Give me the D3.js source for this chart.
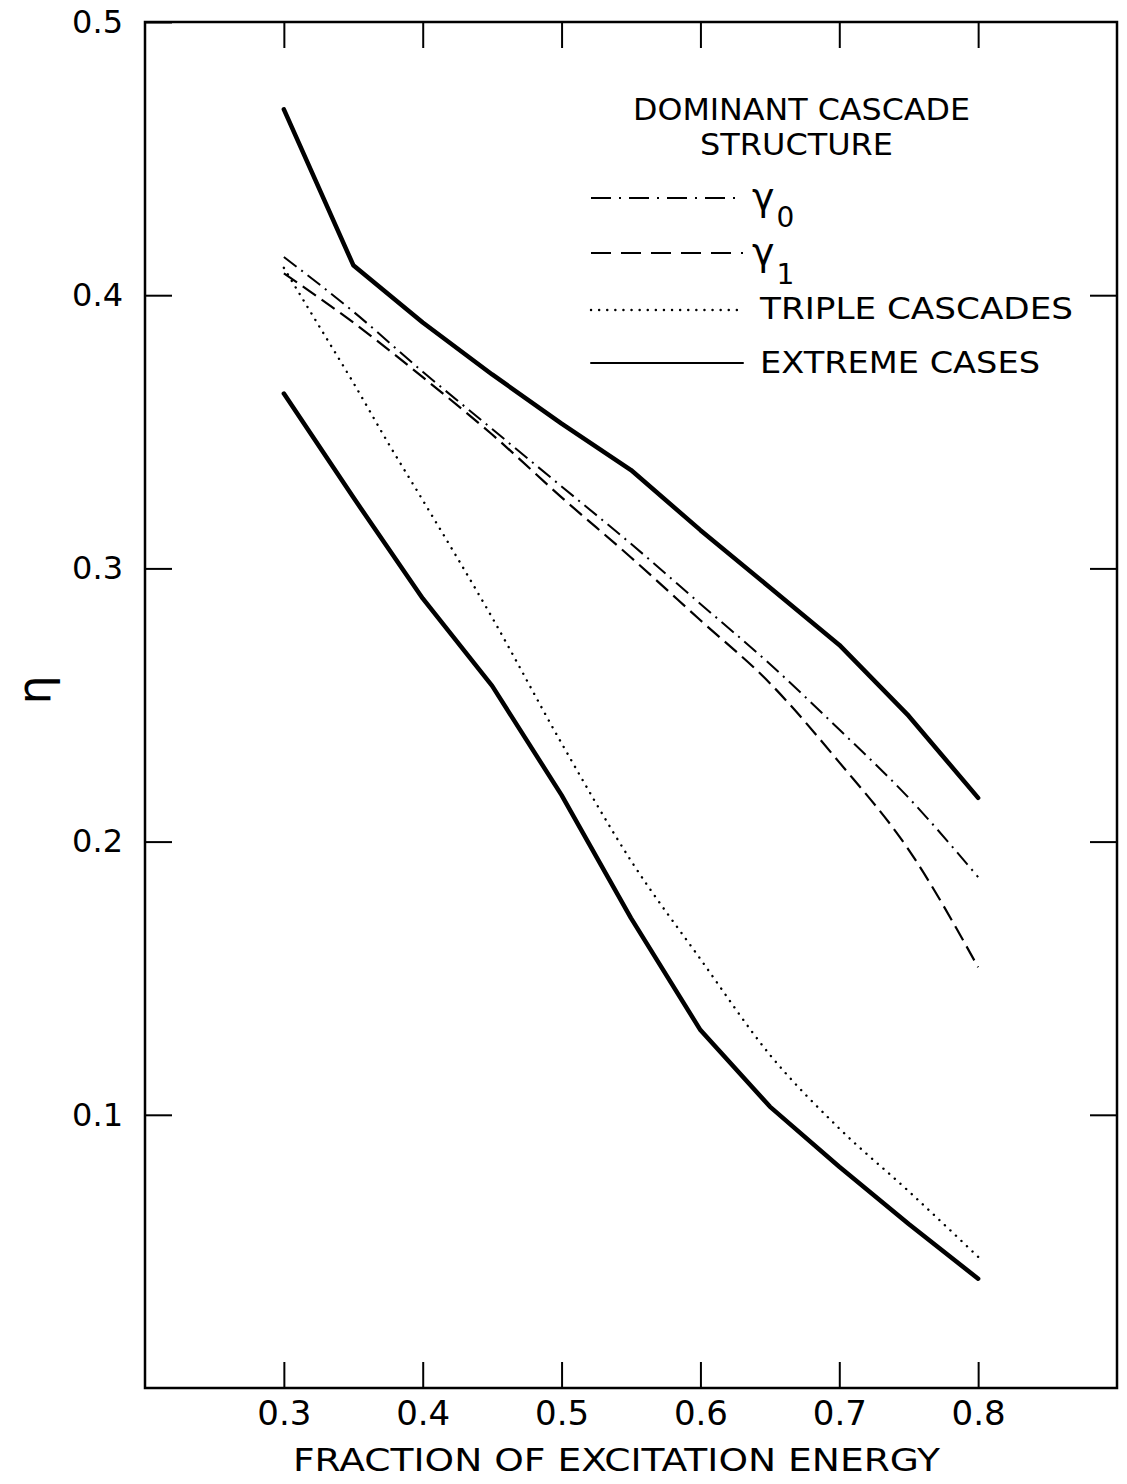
<!DOCTYPE html>
<html>
<head>
<meta charset="utf-8">
<script src="https://cdn.jsdelivr.net/npm/d3@7"></script>
<style>
  body { margin: 0; background: #fff; }
  svg { display: block; }
  text { font-family: "DejaVu Sans", sans-serif; fill: #000; }
</style>
</head>
<body>
<svg id="chart" width="1127" height="1484"></svg>
<script>
'use strict';

// Values.
const xTicks = [0.3, 0.4, 0.5, 0.6, 0.7, 0.8];
const yTicks = [0.1, 0.2, 0.3, 0.4, 0.5];

const gridX = [0.3, 0.35, 0.4, 0.45, 0.5, 0.55, 0.6, 0.65, 0.7, 0.75, 0.8];
const extremeUpper = [0.468, 0.411, 0.390, 0.371, 0.353, 0.336, 0.314, 0.293, 0.272, 0.246, 0.216];
const extremeLower = [0.364, 0.326, 0.289, 0.257, 0.217, 0.172, 0.131, 0.103, 0.081, 0.060, 0.040];
const gamma0 = [0.414, 0.394, 0.372, 0.351, 0.330, 0.309, 0.287, 0.265, 0.241, 0.216, 0.187];
const gamma1 = [0.408, 0.390, 0.370, 0.349, 0.326, 0.304, 0.281, 0.258, 0.229, 0.197, 0.154];

const tripleX = [0.3, 0.325, 0.35, 0.375, 0.4, 0.45, 0.5, 0.55, 0.6, 0.65, 0.7, 0.75, 0.8];
const triple = [0.410, 0.389, 0.368, 0.346, 0.325, 0.282, 0.236, 0.193, 0.157, 0.122, 0.095, 0.072, 0.048];

const svg = d3.select('#chart');
const margin = { left: 145, top: 22, right: 10, bottom: 96 };
const width = 1127 - margin.left - margin.right;
const height = 1484 - margin.top - margin.bottom;

const x = d3.scaleLinear().domain([0.2, 0.9]).range([0, width]);
const y = d3.scaleLinear().domain([0, 0.5]).range([height, 0]);

const g = svg.append('g').attr('transform', `translate(${margin.left},${margin.top})`);

// Axes, ticks pointing inward on all four sides
const fmt = d3.format('.1f');
const styleAxis = sel => {
  sel.select('.domain').remove();
  sel.selectAll('line').attr('stroke', '#000').attr('stroke-width', 2);
};

g.append('g')
  .attr('transform', `translate(0,${height})`)
  .call(d3.axisBottom(x).tickValues(xTicks).tickSize(-26).tickPadding(37).tickFormat(fmt))
  .call(styleAxis)
  .selectAll('text').attr('font-size', 34).attr('dy', 0);

g.append('g')
  .call(d3.axisTop(x).tickValues(xTicks).tickSize(-26).tickFormat(''))
  .call(styleAxis);

g.append('g')
  .call(d3.axisLeft(y).tickValues(yTicks).tickSize(-27).tickPadding(22).tickFormat(fmt))
  .call(styleAxis)
  .selectAll('text').attr('font-size', 32);

g.append('g')
  .attr('transform', `translate(${width},0)`)
  .call(d3.axisRight(y).tickValues(yTicks.slice(0, 4)).tickSize(-27).tickFormat(''))
  .call(styleAxis);

// Frame
g.append('rect')
  .attr('width', width).attr('height', height)
  .attr('fill', 'none').attr('stroke', '#000').attr('stroke-width', 2.5);

// Axis titles
svg.append('text')
  .attr('x', 293).attr('y', 1471)
  .attr('font-size', 32)
  .attr('textLength', 647).attr('lengthAdjust', 'spacingAndGlyphs')
  .text('FRACTION OF EXCITATION ENERGY');

svg.append('text')
  .attr('transform', 'translate(50,690) rotate(-90)')
  .attr('text-anchor', 'middle')
  .attr('font-size', 46)
  .text('η');

// Curves
const styles = {
  solid: { width: 4.5, dash: null, cap: 'round' },
  dashdot: { width: 2, dash: '16 6 2 6', cap: 'butt' },
  dashed: { width: 2.2, dash: '16 7', cap: 'butt' },
  dotted: { width: 2.4, dash: '0.1 7.5', cap: 'round' }
};

const series = [
  { xs: gridX, ys: gamma0, style: 'dashdot', curve: d3.curveMonotoneX },
  { xs: gridX, ys: gamma1, style: 'dashed', curve: d3.curveMonotoneX },
  { xs: tripleX, ys: triple, style: 'dotted', curve: d3.curveMonotoneX },
  { xs: gridX, ys: extremeUpper, style: 'solid', curve: d3.curveLinear },
  { xs: gridX, ys: extremeLower, style: 'solid', curve: d3.curveLinear }
];

series.forEach(s => {
  const st = styles[s.style];
  const line = d3.line().x(d => x(d[0])).y(d => y(d[1])).curve(s.curve);
  g.append('path')
    .datum(s.xs.map((v, i) => [v, s.ys[i]]))
    .attr('d', line)
    .attr('fill', 'none')
    .attr('stroke', '#000')
    .attr('stroke-width', st.width)
    .attr('stroke-linecap', st.cap)
    .attr('stroke-linejoin', 'round')
    .attr('stroke-dasharray', st.dash);
});

// Legend
const legend = svg.append('g');
legend.append('text')
  .attr('x', 633).attr('y', 120).attr('font-size', 31)
  .attr('textLength', 337).attr('lengthAdjust', 'spacingAndGlyphs')
  .text('DOMINANT CASCADE');
legend.append('text')
  .attr('x', 700).attr('y', 155).attr('font-size', 31)
  .attr('textLength', 193).attr('lengthAdjust', 'spacingAndGlyphs')
  .text('STRUCTURE');

const legendRows = [
  { y: 198, style: 'dashdot', dash: '20 8 2 8' },
  { y: 253, style: 'dashed', dash: '20 10' },
  { y: 310, style: 'dotted', dash: '0.1 8' },
  { y: 363, style: 'solid', dash: null }
];
legendRows.forEach(r => {
  const st = styles[r.style];
  legend.append('line')
    .attr('x1', 591).attr('x2', 743)
    .attr('y1', r.y).attr('y2', r.y)
    .attr('stroke', '#000')
    .attr('stroke-width', r.style === 'solid' ? 2 : st.width)
    .attr('stroke-linecap', st.cap)
    .attr('stroke-dasharray', r.dash);
});

const gammaLabel = (yy, sub, subDy) => {
  const t = legend.append('text').attr('x', 752).attr('y', yy).attr('font-size', 38);
  t.append('tspan').text('γ');
  t.append('tspan').attr('font-size', 28).attr('dx', 2).attr('dy', subDy).text(sub);
};
gammaLabel(210, '0', 17);
gammaLabel(265, '1', 19);

legend.append('text')
  .attr('x', 760).attr('y', 319).attr('font-size', 31)
  .attr('textLength', 313).attr('lengthAdjust', 'spacingAndGlyphs')
  .text('TRIPLE CASCADES');
legend.append('text')
  .attr('x', 760).attr('y', 373).attr('font-size', 31)
  .attr('textLength', 280).attr('lengthAdjust', 'spacingAndGlyphs')
  .text('EXTREME CASES');
</script>
</body>
</html>
